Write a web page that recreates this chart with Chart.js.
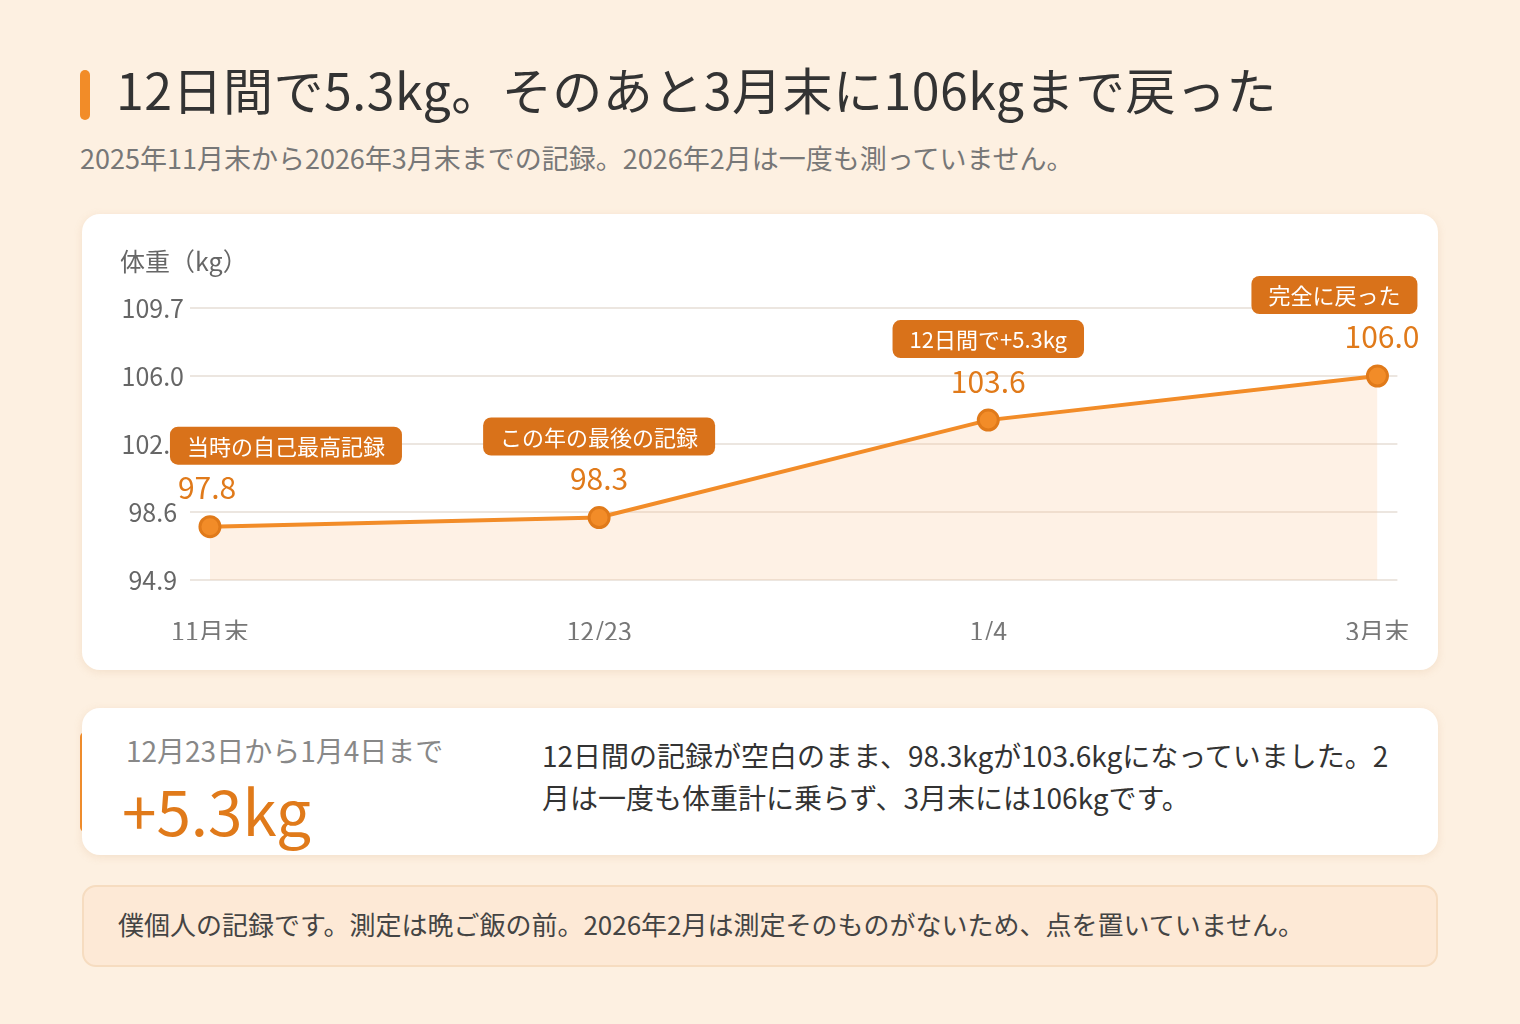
<!DOCTYPE html>
<html lang="ja">
<head>
<meta charset="utf-8">
<script src="https://cdn.jsdelivr.net/npm/chart.js@4.4.1/dist/chart.umd.min.js"></script>
<style>
  body { margin:0; width:1520px; height:1024px; background:#fdf0e1; font-family:"Noto Sans CJK JP","Noto Sans",sans-serif; position:relative; overflow:hidden; }
  .bar { position:absolute; left:80px; width:10px; background:#f28c28; border-radius:5px; }
  #title { position:absolute; left:116px; top:52px; font-size:50px; color:#333; margin:0; font-weight:400; letter-spacing:0.5px; }
  #sub { position:absolute; left:80px; top:138px; font-size:27px; color:#777; }
  .card { position:absolute; left:82px; width:1356px; background:#fff; border-radius:18px; box-shadow:0 2px 8px rgba(200,150,100,0.18); }
  #chartcard { top:214px; height:456px; }
  #ylabel { position:absolute; left:38px; top:28px; font-size:25px; color:#666; }
  #statcard { top:708px; height:147px; }
  #range { position:absolute; left:44px; top:22px; font-size:28px; color:#888; }
  #big { position:absolute; left:40px; top:56px; font-size:62px; color:#e07a1a; }
  #desc { position:absolute; left:460px; top:26px; width:860px; font-size:28px; line-height:42px; color:#333; }
  #note { position:absolute; left:82px; top:885px; width:1356px; height:82px; background:#fde9d6; border:2px solid #f6dcc0; border-radius:14px; box-sizing:border-box; }
  #note span { position:absolute; left:34px; top:18px; font-size:26px; color:#444; }
</style>
</head>
<body>
<div class="bar" style="top:70px;height:50px"></div>
<h1 id="title">12日間で5.3kg。そのあと3月末に106kgまで戻った</h1>
<div id="sub">2025年11月末から2026年3月末までの記録。2026年2月は一度も測っていません。</div>

<div class="card" id="chartcard">
  <div id="ylabel">体重（kg）</div>
  <canvas id="chart" width="1356" height="456"></canvas>
</div>

<div class="bar" style="top:732px;height:100px"></div>
<div class="card" id="statcard">
  <div id="range">12月23日から1月4日まで</div>
  <div id="big">+5.3kg</div>
  <div id="desc">12日間の記録が空白のまま、98.3kgが103.6kgになっていました。2月は一度も体重計に乗らず、3月末には106kgです。</div>
</div>

<div id="note"><span>僕個人の記録です。測定は晩ご飯の前。2026年2月は測定そのものがないため、点を置いていません。</span></div>

<script>
// データ
const categories = ["11月末", "12/23", "1/4", "3月末"];
const weights = [97.8, 98.3, 103.6, 106.0];
const tags = ["当時の自己最高記録", "この年の最後の記録", "12日間で+5.3kg", "完全に戻った"];
const yTicks = [94.9, 98.6, 102.3, 106.0, 109.7];

const orange = "#f28c28";
const darkOrange = "#d9721a";

const labelPlugin = {
    id: "tagLabels",
    afterDatasetsDraw(chart) {
        const ctx = chart.ctx;
        const meta = chart.getDatasetMeta(0);
        meta.data.forEach((pt, i) => {
            const x = pt.x, y = pt.y;
            const last = i === weights.length - 1;
            const align = i === 0 ? "left" : (last ? "right" : "center");
            ctx.save();
            // 値
            ctx.font = '30px "Noto Sans CJK JP"';
            ctx.fillStyle = "#e07a1a";
            ctx.textBaseline = "middle";
            ctx.textAlign = align;
            let vx = i === 0 ? x - 32 : (last ? x + 42 : x);
            ctx.fillText(weights[i].toFixed(1), vx, y - 39);
            // タグ
            ctx.font = '22px "Noto Sans CJK JP"';
            const w = ctx.measureText(tags[i]).width + 34;
            const h = 38;
            let bx = i === 0 ? x - 40 : (last ? x + 40 - w : x - w / 2);
            const by = y - 81 - h / 2;
            ctx.fillStyle = darkOrange;
            ctx.beginPath();
            ctx.roundRect(bx, by, w, h, 8);
            ctx.fill();
            ctx.fillStyle = "#fff";
            ctx.textAlign = "center";
            ctx.fillText(tags[i], bx + w / 2, by + h / 2 + 1);
            ctx.restore();
        });
    }
};

const xPad = 20 / 1170 * 3;

new Chart(document.getElementById("chart"), {
    type: "line",
    data: {
        datasets: [{
            data: weights.map((v, i) => ({ x: i, y: v })),
            borderColor: orange,
            borderWidth: 4,
            backgroundColor: "rgba(250,200,150,0.25)",
            fill: "start",
            tension: 0,
            pointRadius: 10,
            pointHoverRadius: 10,
            pointBackgroundColor: orange,
            pointBorderColor: "#e07a1a",
            pointBorderWidth: 3
        }]
    },
    options: {
        responsive: false,
        animation: false,
        layout: { padding: { top: 94, left: 26, right: 38, bottom: 30 } },
        plugins: { legend: { display: false }, tooltip: { enabled: false } },
        scales: {
            x: {
                type: "linear",
                min: -xPad,
                max: 3 + xPad,
                afterBuildTicks: (axis) => { axis.ticks = categories.map((c, i) => ({ value: i })); },
                afterFit: (axis) => { axis.height = 60; },
                grid: { display: false },
                border: { display: false },
                ticks: {
                    callback: (v) => categories[v],
                    color: "#777",
                    padding: 28,
                    font: { size: 25, family: "Noto Sans CJK JP" }
                }
            },
            y: {
                min: yTicks[0],
                max: yTicks[yTicks.length - 1],
                afterBuildTicks: (axis) => { axis.ticks = yTicks.map(v => ({ value: v })); },
                afterFit: (axis) => { axis.width = 82; },
                grid: { color: "#ece6e0", lineWidth: 2, drawTicks: false },
                border: { display: false },
                ticks: {
                    callback: (v) => v.toFixed(1),
                    color: "#666",
                    padding: 6,
                    crossAlign: "center",
                    font: { size: 25, family: "Noto Sans CJK JP" }
                }
            }
        }
    },
    plugins: [labelPlugin]
});
</script>
</body>
</html>
